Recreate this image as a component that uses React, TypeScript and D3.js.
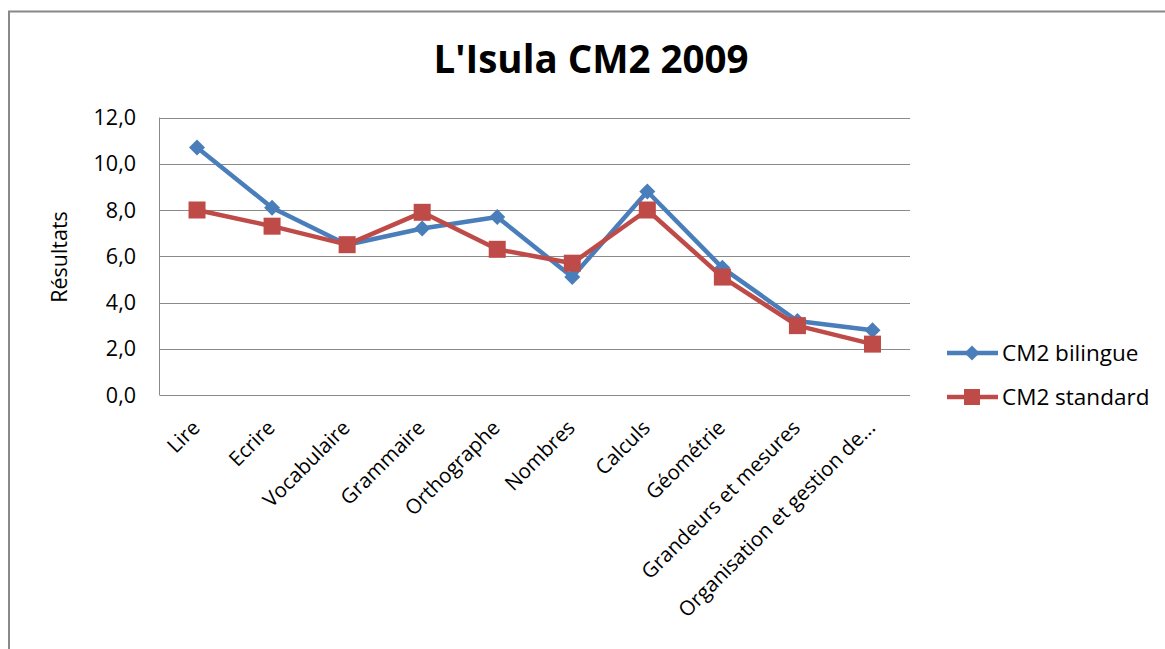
import React from "react";
import * as d3 from "d3";

const categories = [
  "Lire",
  "Ecrire",
  "Vocabulaire",
  "Grammaire",
  "Orthographe",
  "Nombres",
  "Calculs",
  "Géométrie",
  "Grandeurs et mesures",
  "Organisation et gestion de...",
];
const bilingue = [10.7, 8.1, 6.5, 7.2, 7.7, 5.1, 8.8, 5.5, 3.2, 2.8];
const standard = [8.0, 7.3, 6.5, 7.9, 6.3, 5.7, 8.0, 5.1, 3.0, 2.2];
const yTicks = [0, 2, 4, 6, 8, 10, 12];
const seriesNames = ["CM2 bilingue", "CM2 standard"];
const title = "L'Isula CM2 2009";
const yLabel = "Résultats";

const W = 1165;
const H = 649;
const FONT = "'Open Sans', 'Noto Sans', sans-serif";
const BLUE = "#4A7EBB";
const RED = "#BE4B48";

export default function App() {
  const left = 159.5;
  const right = 910;
  const top = 117.5;
  const bottom = 395;

  const x = d3.scaleBand<string>().domain(categories).range([left, right]);
  const y = d3.scaleLinear().domain([0, 12]).range([bottom, top]);
  const cx = (c: string) => (x(c) as number) + x.bandwidth() / 2;

  const line = d3
    .line<number>()
    .x((_, i) => cx(categories[i]))
    .y((d) => y(d));

  const diamond = (px: number, py: number, r: number) =>
    `M${px},${py - r}L${px + r},${py}L${px},${py + r}L${px - r},${py}Z`;

  return (
    <svg
      width={W}
      height={H}
      style={{ position: "absolute", left: 0, top: 0, background: "#fff" }}
      fontFamily={FONT}
    >
      <rect x={0} y={0} width={W} height={H} fill="#fff" />
      <path d={`M9,${H}V11.5H${W}`} fill="none" stroke="#888" strokeWidth={2} />

      <text
        x={591}
        y={73}
        textAnchor="middle"
        fontSize={38.5}
        fontWeight="bold"
        fill="#000"
      >
        {title}
      </text>

      {yTicks.map((t) => (
        <line
          key={t}
          x1={left}
          x2={right}
          y1={Math.round(y(t)) + 0.5}
          y2={Math.round(y(t)) + 0.5}
          stroke="#8a8a8a"
          strokeWidth={1}
        />
      ))}
      <line x1={left} x2={left} y1={top} y2={bottom} stroke="#8a8a8a" strokeWidth={1} />

      {yTicks.map((t) => (
        <text
          key={t}
          x={136}
          y={y(t) + 7.5}
          textAnchor="end"
          fontSize={21.5}
          fill="#000"
        >
          {t.toFixed(1).replace(".", ",")}
        </text>
      ))}

      <text
        transform={`translate(67,257) rotate(-90)`}
        textAnchor="middle"
        fontSize={21.5}
        fill="#000"
      >
        {yLabel}
      </text>

      {categories.map((c) => (
        <text
          key={c}
          transform={`translate(${cx(c) + 4},${429}) rotate(-45)`}
          textAnchor="end"
          fontSize={20.5}
          fill="#000"
        >
          {c}
        </text>
      ))}

      <path d={line(bilingue) || ""} fill="none" stroke={BLUE} strokeWidth={4.5} strokeLinejoin="round" />
      {bilingue.map((v, i) => (
        <path key={i} d={diamond(cx(categories[i]), y(v), 8)} fill={BLUE} />
      ))}
      <path d={line(standard) || ""} fill="none" stroke={RED} strokeWidth={4.5} strokeLinejoin="round" />
      {standard.map((v, i) => (
        <rect
          key={i}
          x={cx(categories[i]) - 8.5}
          y={y(v) - 8.5}
          width={17}
          height={17}
          fill={RED}
        />
      ))}

      {seriesNames.map((n, i) => {
        const ly = 353 + i * 44;
        const col = i === 0 ? BLUE : RED;
        return (
          <g key={n}>
            <line x1={947} x2={998} y1={ly} y2={ly} stroke={col} strokeWidth={4.5} />
            {i === 0 ? (
              <path d={diamond(972, ly, 7.5)} fill={col} />
            ) : (
              <rect x={964} y={ly - 8} width={16} height={16} fill={col} />
            )}
            <text x={1002} y={ly + 7.5} fontSize={22.5} fill="#000">
              {n}
            </text>
          </g>
        );
      })}
    </svg>
  );
}
